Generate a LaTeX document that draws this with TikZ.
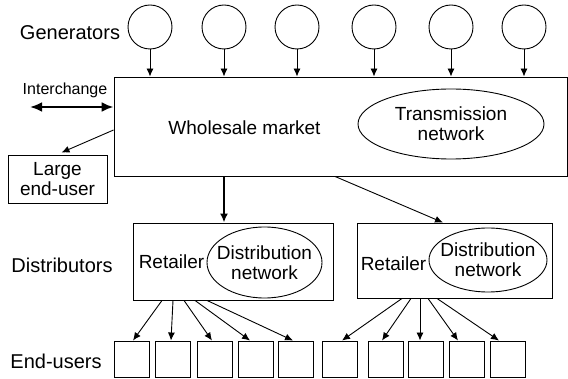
\documentclass[tikz,border=0pt]{standalone}
\usepackage{fontspec}
\setmainfont{Liberation Sans}
\usetikzlibrary{arrows.meta,shapes.geometric,calc}
\begin{document}
\begin{tikzpicture}[x=1pt,y=-1pt,
  box/.style={draw,line width=0.9pt,inner sep=0pt},
  gen/.style={draw,circle,line width=0.9pt,minimum size=44pt,inner sep=0pt},
  oval/.style={draw,ellipse,line width=0.9pt,inner sep=0pt},
  txt/.style={inner sep=0pt,font=\fontsize{19}{20}\selectfont,align=center},
  lab/.style={inner sep=0pt,font=\fontsize{20}{22}\selectfont},
  arr/.style={-{Latex[length=8pt,width=7pt]},line width=0.9pt},
  thickarr/.style={-{Latex[length=9pt,width=8pt]},line width=1.8pt}]
\useasboundingbox (0,0) rectangle (568,379);
% generators
\foreach \i/\x in {1/150,2/224,3/297,4/374,5/451,6/524}{
  \node[gen] (g\i) at (\x,27) {};
}
\node[lab] (glab) at (70,33) {Generators};
% wholesale box
\node[box,minimum width=453pt,minimum height=99pt] (wm) at (340.5,126.5) {};
\node[txt] (wmt) at (244.5,128) {Wholesale market};
\node[oval,minimum width=186pt,minimum height=70pt] (tn) at (451,124) {};
\node[txt] (tnt) at (tn) {Transmission\\network};
\foreach \i in {1,...,6}{
  \draw[arr] (g\i.south) -- (g\i.south |- wm.north);
}
% interchange
\node[inner sep=0pt,font=\fontsize{16}{18}\selectfont] (ic) at (65,90) {Interchange};
\coordinate (icl) at (30,107);
\coordinate (icr) at (wm.west |- icl);
\draw[{Latex[length=12pt,width=10pt]}-{Latex[length=12pt,width=10pt]},line width=2.6pt] (icl) -- (icr);
% large end-user
\node[box,minimum width=99pt,minimum height=48pt] (leu) at (57.5,179) {};
\node[txt] (leut) at (leu) {Large\\end-user};
\coordinate (wmls) at (wm.west |- 0,130);
\draw[arr] (wmls) -- ($(leu.north)+(4,-2)$);
% distributors
\node[box,minimum width=200pt,minimum height=77pt] (d1) at (233,261.5) {};
\node[box,minimum width=195pt,minimum height=75pt] (d2) at (454.5,260.5) {};
\node[txt] (r1) at (171.5,262) {Retailer};
\node[txt] (r2) at (393.5,264) {Retailer};
\node[oval,minimum width=115pt,minimum height=71pt] (dn1) at (264.5,262.5) {};
\node[oval,minimum width=118pt,minimum height=64pt] (dn2) at (488,260) {};
\node[txt] (dn1t) at (dn1) {Distribution\\network};
\node[txt] (dn2t) at (dn2) {Distribution\\network};
\node[lab] (dlab) at (62,265) {Distributors};
\draw[thickarr] (wm.south -| 224,0) -- (d1.north -| 224,0);
\draw[arr] (wm.south -| 335,0) -- ($(d2.north)+(-11.5,0)$);
% end users
\node[lab] (elab) at (56,361) {End-users};
\foreach \i/\x in {1/132,2/173,3/214.5,4/256,5/295.5,6/339.5,7/386,8/425.5,9/467,10/508}{
  \node[box,minimum width=35pt,minimum height=36pt] (e\i) at (\x,359) {};
}
\foreach \s/\i/\t in {162/1/1,173/2/-2,184/3/-2.5,195/4/-6,207/5/-2.5}{
  \draw[arr] (d1.south -| \s,0) -- ($(e\i.north)+(\t,0)$);
}
\foreach \s/\i/\t in {402/6/2.5,411/7/-4,420/8/-5.5,428/9/-9,437/10/-9}{
  \draw[arr] (d2.south -| \s,0) -- ($(e\i.north)+(\t,0)$);
}
\end{tikzpicture}
\end{document}
